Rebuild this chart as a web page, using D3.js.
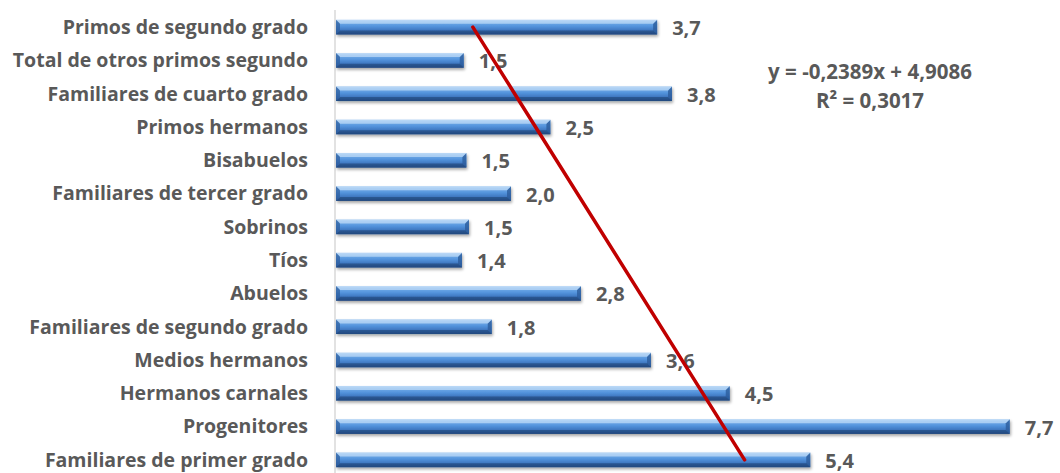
<!DOCTYPE html>
<html><head><meta charset="utf-8">
<script src="https://cdn.jsdelivr.net/npm/d3@7"></script>
<style>body{margin:0;background:#fff}svg{display:block}text{font-family:"Open Sans",sans-serif;font-weight:bold;fill:#595959}</style>
</head><body><div id="c"></div>
<script>
const categories = ["Primos de segundo grado","Total de otros primos segundo","Familiares de cuarto grado","Primos hermanos","Bisabuelos","Familiares de tercer grado","Sobrinos","Tíos","Abuelos","Familiares de segundo grado","Medios hermanos","Hermanos carnales","Progenitores","Familiares de primer grado"];
const values = [3.67,1.46,3.84,2.45,1.49,2.0,1.52,1.44,2.8,1.78,3.6,4.5,7.7,5.42];
const valueLabels = ["3,7","1,5","3,8","2,5","1,5","2,0","1,5","1,4","2,8","1,8","3,6","4,5","7,7","5,4"];
const trendSlope = -0.2389, trendIntercept = 4.9086;
const trendText = ["y = -0,2389x + 4,9086","R² = 0,3017"];

const W=1060,H=473;
const svg=d3.select("#c").append("svg").attr("width",W).attr("height",H);
const defs=svg.append("defs");
const g=defs.append("linearGradient").attr("id","bar").attr("x1",0).attr("y1",0).attr("x2",0).attr("y2",1);
[[0,"#a9cdf3"],[0.15,"#74ade9"],[0.45,"#5393dc"],[0.7,"#4079c2"],[1,"#27508a"]].forEach(s=>g.append("stop").attr("offset",s[0]).attr("stop-color",s[1]));
const f=defs.append("filter").attr("id","sh").attr("x","-5%").attr("y","-50%").attr("width","110%").attr("height","250%");
f.append("feGaussianBlur").attr("in","SourceAlpha").attr("stdDeviation",1.5);
f.append("feOffset").attr("dx",1).attr("dy",2).attr("result","b");
f.append("feComponentTransfer").append("feFuncA").attr("type","linear").attr("slope",0.35);
const m=f.append("feMerge");m.append("feMergeNode");m.append("feMergeNode").attr("in","SourceGraphic");

const x=d3.scaleLinear().domain([0,1]).range([336,423.5]);
const y=d3.scaleBand().domain(categories).range([10.5,476.5]).paddingInner(0.56).paddingOuter(0.28);
const bh=y.bandwidth();

svg.append("line").attr("x1",335).attr("x2",335).attr("y1",10).attr("y2",H).attr("stroke","#d9d9d9").attr("stroke-width",1.5);

const bars=svg.append("g").selectAll("g").data(categories).join("g").attr("filter","url(#sh)");
bars.append("rect").attr("x",x(0)).attr("y",d=>y(d)).attr("width",(d,i)=>x(values[i])-x(0)).attr("height",bh).attr("fill","url(#bar)");
bars.append("path").attr("d",(d,i)=>{const x1=x(values[i]),y0=y(d),b=4;return `M${x1-b},${y0+b}L${x1},${y0}L${x1},${y0+bh}L${x1-b},${y0+bh-b}Z`;}).attr("fill","#2c5c9c").attr("opacity",0.8);
bars.append("path").attr("d",(d,i)=>{const x1=x(values[i]),y0=y(d),b=4;return `M${x1-b},${y0+b}L${x1},${y0}L${x(0)},${y0}L${x(0)+b},${y0+b}Z`;}).attr("fill","#c4def8").attr("opacity",0.7);
bars.append("path").attr("d",(d,i)=>{const x1=x(values[i]),y0=y(d),b=4;return `M${x1-b},${y0+bh-b}L${x1},${y0+bh}L${x(0)},${y0+bh}L${x(0)+b},${y0+bh-b}Z`;}).attr("fill","#1f4578").attr("opacity",0.6);
bars.append("path").attr("d",(d,i)=>{const x0=x(0),y0=y(d),b=4;return `M${x0},${y0}L${x0+b},${y0+b}L${x0+b},${y0+bh-b}L${x0},${y0+bh}Z`;}).attr("fill","#2c5c9c").attr("opacity",0.7);

svg.append("g").selectAll("text").data(categories).join("text")
 .attr("x",308).attr("y",d=>y(d)+bh/2).attr("dy","0.35em").attr("text-anchor","end").attr("font-size",19.5).text(d=>d);

svg.append("g").selectAll("text").data(categories).join("text")
 .attr("x",(d,i)=>x(values[i])+15).attr("y",d=>y(d)+bh/2+1).attr("dy","0.35em").attr("font-size",20).text((d,i)=>valueLabels[i]);

const n=categories.length;
const idx=i=>n-i;
const tl=[0,n-1].map(i=>[x(trendIntercept+trendSlope*idx(i)),y(categories[i])+bh/2]);
svg.append("line").attr("x1",tl[0][0]).attr("y1",tl[0][1]).attr("x2",tl[1][0]).attr("y2",tl[1][1]).attr("stroke","#c00000").attr("stroke-width",3.5).attr("stroke-linecap","round");

svg.append("g").selectAll("text").data(trendText).join("text").attr("x",870).attr("y",(d,i)=>72+i*29).attr("dy","0.35em").attr("text-anchor","middle").attr("font-size",20.5).text(d=>d);
</script></body></html>
